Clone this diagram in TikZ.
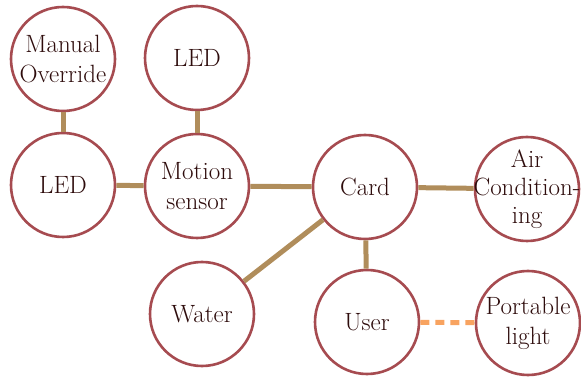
\documentclass[tikz,border=0pt]{standalone}
\usepackage{fontspec}
\usetikzlibrary{positioning}
\definecolor{ringred}{HTML}{A64B50}
\definecolor{linktan}{HTML}{B08D5B}
\definecolor{inkdark}{HTML}{2E0C0C}
\definecolor{dashorange}{HTML}{F8A360}
\begin{document}
\begin{tikzpicture}[x=1pt, y=-1pt,
		unit/.style = {circle, draw=ringred, line width=2.6pt, fill=white, minimum size=104pt, inner sep=0pt, align=center, text=inkdark, font=\rmfamily\fontsize{25}{30}\selectfont},
		link/.style = {draw=linktan, line width=5pt},
		wire/.style = {draw=dashorange, line width=5pt, dash pattern=on 9pt off 6pt}]
		
		\useasboundingbox (0,0) rectangle (581,379);
		
		% top row
		\node[unit] (m1) at (63,59) {Manual\\Override};
		\node[unit] (l1) at (197,58) {LED};
		
		% middle row
		\node[unit] (l2) at (63,185) {LED};
		\node[unit] (ms) at (197,186) {Motion\\sensor};
		\node[unit] (cd) at (365,187) {Card};
		\node[unit, inner sep=-22pt, font=\rmfamily\fontsize{25}{28}\selectfont] (ac) at (527,189) {Air\\Condition-\\ing};
		
		% bottom row
		\node[unit] (wt) at (202,314) {Water};
		\node[unit] (us) at (367,322) {User};
		\node[unit] (pl) at (528,323) {Portable\\light};
		
		% solid links between the units
		\draw[link] (m1) -- (l2);
		\draw[link] (l1) -- (ms);
		\draw[link] (l2) -- (ms);
		\draw[link] (ms) -- (cd);
		\draw[link] (cd) -- (ac);
		\draw[link] (cd) -- (wt);
		\draw[link] (cd) -- (us);
		
		% dashed link
		\draw[wire] (us) -- (pl);
		
	\end{tikzpicture}
\end{document}
